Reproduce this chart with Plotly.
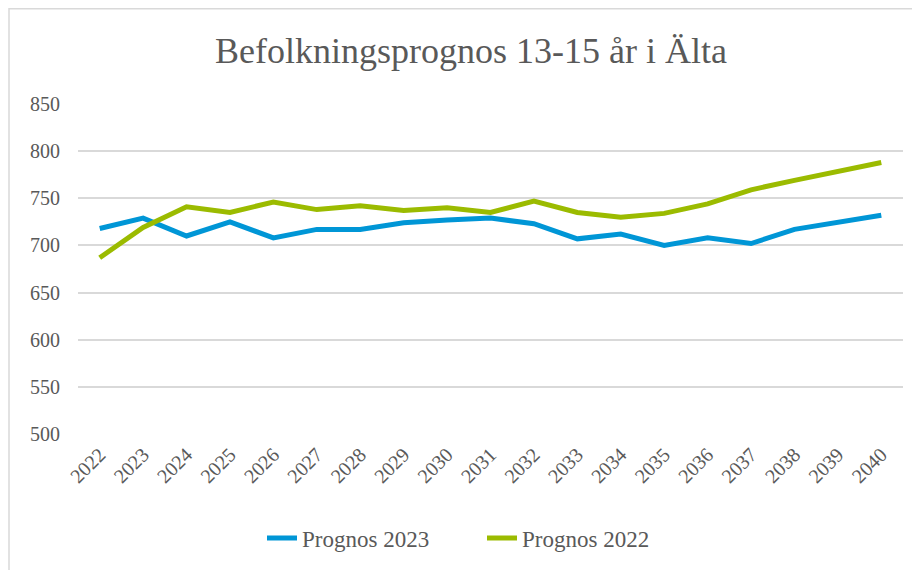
"""
Befolkningsprognos 13-15 år i Älta
"""
import plotly.graph_objects as go

# Årtal och prognosvärden
years = [str(y) for y in range(2022, 2041)]
prognos_2023 = [718, 729, 710, 725, 708, 717, 717, 724, 727, 729,
                723, 707, 712, 700, 708, 702, 717, 725, 732]
prognos_2022 = [687, 719, 741, 735, 746, 738, 742, 737, 740, 735,
                747, 735, 730, 734, 744, 759, 769, 778, 788]
y_ticks = [500, 550, 600, 650, 700, 750, 800, 850]

serif = "Liberation Serif"
grey = "#595959"

# sidan har 8 px marginal, så figuren görs 912x562
W, H = 912, 562
L, T, PW, PH = 70, 96, 825, 330

fig = go.Figure()

fig.add_trace(go.Scatter(
    x=years,
    y=prognos_2023,
    mode='lines',
    name="Prognos 2023",
    line=dict(color="#0096D6", width=5),
))

fig.add_trace(go.Scatter(
    x=years,
    y=prognos_2022,
    mode='lines',
    name="Prognos 2022",
    line=dict(color="#9BBB00", width=5),
))

fig.update_layout(
    width=W,
    height=H,
    paper_bgcolor="white",
    plot_bgcolor="white",
    margin=dict(l=L, r=W - L - PW, t=T, b=H - T - PH, autoexpand=False),
    title=dict(
        text="Befolkningsprognos 13-15 år i Älta",
        font=dict(family=serif, size=36, color=grey),
        x=463 / W, xanchor='center',
        y=1 - 42 / H, yanchor='middle',
    ),
    xaxis=dict(
        type='category',
        range=[-0.5, len(years) - 0.5],
        tickangle=-45,
        tickfont=dict(family=serif, size=20, color=grey),
        showgrid=False,
        showline=False,
        ticks='',
        ticklabelstandoff=4,
        automargin=False,
    ),
    yaxis=dict(
        range=[500, 850],
        tickvals=y_ticks,
        tickfont=dict(family=serif, size=20, color=grey),
        gridcolor="#D9D9D9",
        gridwidth=1.5,
        zeroline=False,
        showline=False,
        ticks='',
        ticklabelstandoff=17,
        automargin=False,
    ),
    legend=dict(
        orientation="h",
        x=(262 - 8 - L) / PW, xanchor='left',
        y=(T + PH - 530) / PH, yanchor='middle',
        font=dict(family=serif, size=23, color=grey),
        entrywidth=175,
    ),
    shapes=[dict(
        type='rect', xref='paper', yref='paper',
        x0=(1 - L) / PW, x1=1.1,
        y0=-0.5, y1=(T + PH - 0.75) / PH,
        line=dict(color="#D9D9D9", width=1.5),
        fillcolor='rgba(0,0,0,0)',
        layer='below',
    )],
)

fig.write_html("out.html")
